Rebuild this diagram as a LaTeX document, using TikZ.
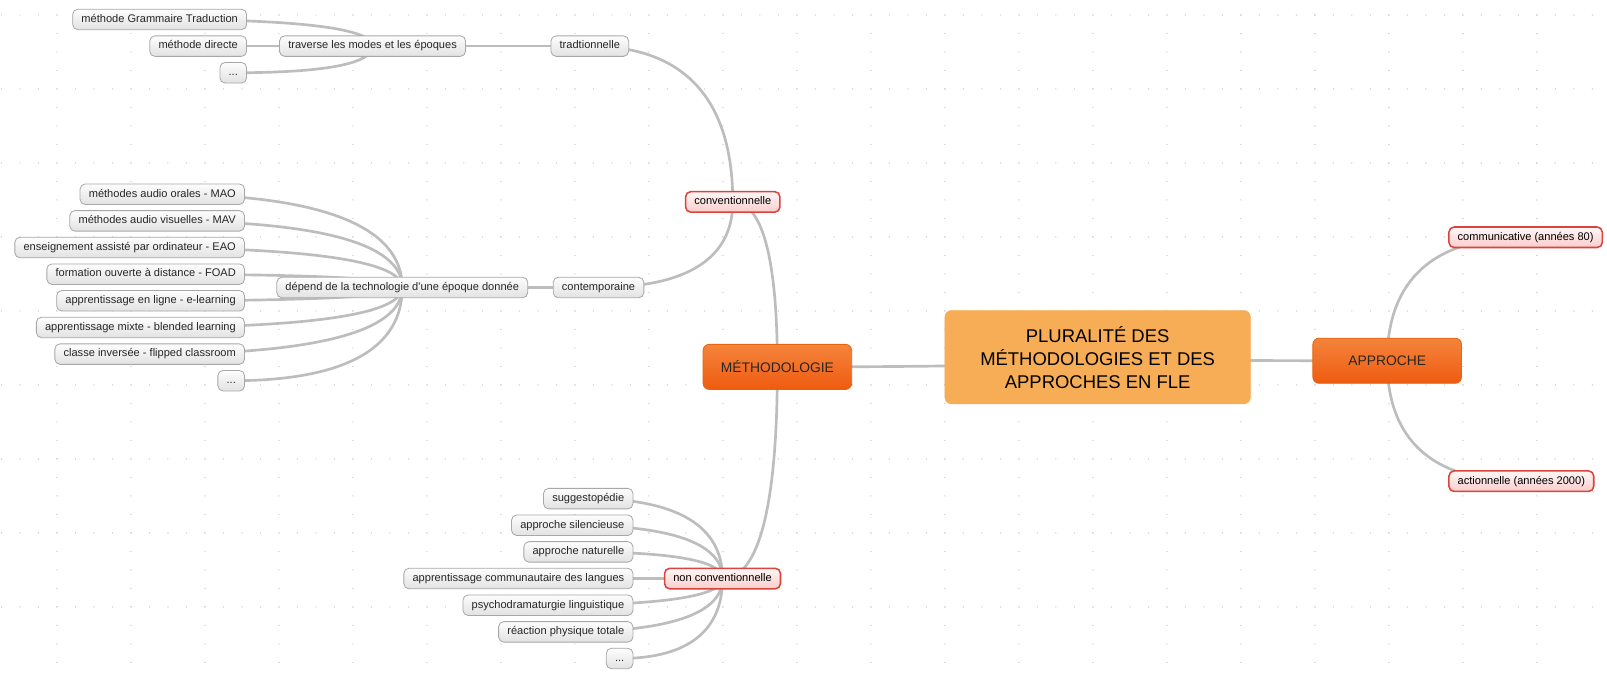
\documentclass[tikz,border=0pt]{standalone}
\usepackage{fontspec}
\setmainfont{Liberation Sans}
\usetikzlibrary{calc,backgrounds}
\definecolor{linegray}{HTML}{BDBDBD}
\definecolor{leafline}{HTML}{A8A8A8}
\definecolor{leaftop}{HTML}{FDFDFD}
\definecolor{leafbot}{HTML}{E2E2E2}
\definecolor{redline}{HTML}{D9443D}
\definecolor{redtop}{HTML}{FFF7F7}
\definecolor{redbot}{HTML}{F8CDCB}
\definecolor{orangetop}{HTML}{F5843C}
\definecolor{orangebot}{HTML}{EE5B10}
\definecolor{orangeline}{HTML}{E76411}
\definecolor{rootfill}{HTML}{F7AD56}
\definecolor{dotgray}{HTML}{C8C8C8}

\begin{document}
\begin{tikzpicture}[x=1pt, y=-1pt]
\tikzstyle{every node} = [inner xsep=8.5pt, rounded corners=5pt]
\tikzstyle{leaf} = [draw=leafline, line width=.8pt, top color=leaftop, bottom color=leafbot, text=black!85, font=\fontsize{10.8}{13}\selectfont, text height=8pt, text depth=2.5pt, inner ysep=4.75pt]
\tikzstyle{subtopic} = [draw=redline, line width=1.5pt, top color=redtop, bottom color=redbot, text=black, font=\fontsize{10.8}{13}\selectfont, text height=8pt, text depth=2.5pt, inner ysep=4.75pt]
\tikzstyle{maintopic} = [draw=orangeline, line width=.8pt, top color=orangetop, bottom color=orangebot, text=black!85, font=\fontsize{13.5}{16}\selectfont, minimum width=145pt, minimum height=44pt, rounded corners=6pt]
\tikzstyle{central} = [fill=rootfill, draw=rootfill, text=black, font=\fontsize{18}{22.5}\selectfont, align=center, minimum width=298pt, minimum height=91pt, rounded corners=6pt]
\tikzstyle{branch} = [draw=linegray, line width=2.6pt, line cap=round, to path={.. controls ($(\tikztostart)!.66!(\tikztostart |- \tikztotarget)$) and ($(\tikztotarget)!.66!(\tikztostart |- \tikztotarget)$) .. (\tikztotarget)}]
\useasboundingbox (0, 0) rectangle (1568, 657);

% centre
\node[central] (root) at (1071, 348.5) {PLURALITÉ DES\\MÉTHODOLOGIES ET DES\\APPROCHES EN FLE};
\node[maintopic] (meth) at (758.5, 358) {MÉTHODOLOGIE};
\node[maintopic] (appr) at (1353.5, 352) {APPROCHE};
\node[subtopic, anchor=west] (com80) at (1413, 231.5) {communicative (années 80)};
\node[subtopic, anchor=west] (act00) at (1413, 469.5) {actionnelle (années 2000)};
\node[subtopic] (conv) at (715, 197) {conventionnelle};
\node[subtopic] (nonc) at (705, 564.5) {non conventionnelle};

% conventionnelle
\node[leaf] (trad) at (575.5, 45) {tradtionnelle};
\node[leaf] (trav) at (363.5, 45) {traverse les modes et les époques};
\node[leaf, anchor=east] (mgt) at (241, 19) {méthode Grammaire Traduction};
\node[leaf, anchor=east] (mdir) at (241, 45) {méthode directe};
\node[leaf, anchor=east] (tdots) at (241, 71) {...};
\node[leaf] (cont) at (584, 280.5) {contemporaine};
\node[leaf] (dep) at (392.5, 280.5) {dépend de la technologie d\textquotesingle une époque donnée};
\node[leaf, anchor=east] (mao) at (239, 189.5) {méthodes audio orales - MAO};
\node[leaf, anchor=east] (mav) at (239, 215.5) {méthodes audio visuelles - MAV};
\node[leaf, anchor=east] (eao) at (239, 241.5) {enseignement assisté par ordinateur - EAO};
\node[leaf, anchor=east] (foad) at (239, 267.5) {formation ouverte à distance - FOAD};
\node[leaf, anchor=east] (elearn) at (239, 293.5) {apprentissage en ligne - e-learning};
\node[leaf, anchor=east] (blend) at (239, 319.5) {apprentissage mixte - blended learning};
\node[leaf, anchor=east] (flip) at (239, 345.5) {classe inversée - flipped classroom};
\node[leaf, anchor=east] (ddots) at (239, 371.5) {...};

% non conventionnelle
\node[leaf, anchor=east] (sugg) at (618, 486.5) {suggestopédie};
\node[leaf, anchor=east] (silent) at (618, 512.5) {approche silencieuse};
\node[leaf, anchor=east] (natur) at (618, 538.5) {approche naturelle};
\node[leaf, anchor=east] (commu) at (618, 564.5) {apprentissage communautaire des langues};
\node[leaf, anchor=east] (psycho) at (618, 590.5) {psychodramaturgie linguistique};
\node[leaf, anchor=east] (phys) at (618, 616.5) {réaction physique totale};
\node[leaf, anchor=east] (ndots) at (618, 642.5) {...};

\begin{scope}[on background layer]
\fill[white] (0, 0) rectangle (1568, 657);
% grille
\foreach \r in {0,...,8}
\foreach \k in {0,...,86}
\fill[dotgray] (1.45+\k*18.05, 14.6+\r*72.2) circle (.7pt);
\foreach \c in {0,...,21}
\foreach \k in {0,...,35}
\fill[dotgray] (55.6+\c*72.2, 14.6+\k*18.05) circle (.7pt);
\foreach \from/\to in {root/meth, root/appr, appr/com80, appr/act00, meth/conv, meth/nonc, conv/trad, conv/cont, trad/trav, cont/dep, trav/mgt, trav/mdir, trav/tdots, dep/mao, dep/mav, dep/eao, dep/foad, dep/elearn, dep/blend, dep/flip, dep/ddots, nonc/sugg, nonc/silent, nonc/natur, nonc/commu, nonc/psycho, nonc/phys, nonc/ndots}
\draw[branch] (\from.center) to (\to.center);
\end{scope}
\end{tikzpicture}
\end{document}
